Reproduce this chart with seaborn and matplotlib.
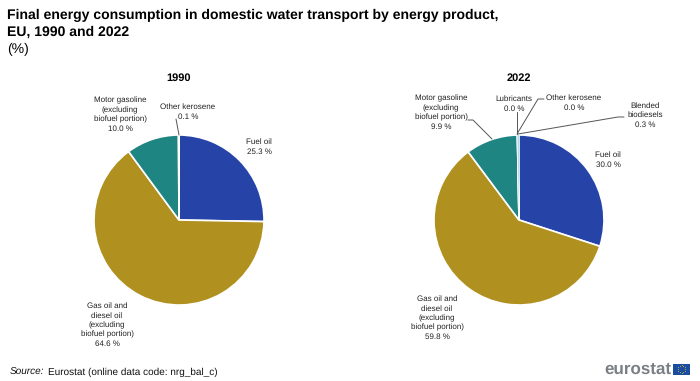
import numpy as np
import matplotlib
matplotlib.use('Agg')
import matplotlib.pyplot as plt
from matplotlib.patches import Rectangle
import seaborn as sns

# data
years = ['1990', '2022']
labels_1990 = ['Fuel oil', 'Gas oil and\ndiesel oil\n(excluding\nbiofuel portion)',
               'Motor gasoline\n(excluding\nbiofuel portion)', 'Other kerosene']
values_1990 = [25.3, 64.6, 10.0, 0.1]
colors_1990 = ['#2644a8', '#b0901e', '#1f8583', '#7fb5d8']

labels_2022 = ['Fuel oil', 'Gas oil and\ndiesel oil\n(excluding\nbiofuel portion)',
               'Motor gasoline\n(excluding\nbiofuel portion)', 'Lubricants',
               'Other kerosene', 'Blended\nbiodiesels']
values_2022 = [30.0, 59.8, 9.9, 0.0, 0.0, 0.3]
colors_2022 = ['#2644a8', '#b0901e', '#1f8583', '#c84a32', '#7fb5d8', '#a9dff0']

# label centres in pixels
pos_1990 = [(259, 147), (107, 325), (120, 115), (188, 112)]
pos_2022 = [(608, 160), (437, 318), (441, 113), (514, 104), (574, 103), (645, 115)]

W, H = 700, 381
sns.set_theme(style='white')
plt.rcParams['font.family'] = ['Liberation Sans', 'DejaVu Sans']
plt.rcParams['text.hinting'] = 'no_hinting'
plt.rcParams['text.hinting_factor'] = 1
fig = plt.figure(figsize=(W / 100, H / 100), dpi=100)


def fx(x):
    return x / W


def fy(y):
    return 1 - y / H


def draw_pie(cx, cy, r, values, colors, labels, positions, year):
    ax = fig.add_axes([fx(cx - r), fy(cy + r), 2 * r / W, 2 * r / H])
    wedges, _ = ax.pie(values, colors=colors, startangle=90, counterclock=False, radius=1,
                       wedgeprops={'edgecolor': 'white', 'linewidth': 1.2})
    # keep the thin biodiesel slice visible over the white separators
    for w, val in zip(wedges, values):
        if 0.2 <= val < 1:
            w.set_linewidth(0)
            w.set_zorder(5)
    ax.set_xlim(-1, 1)
    ax.set_ylim(-1, 1)
    ax.set_aspect('equal')
    for lab, val, (x, y) in zip(labels, values, positions):
        fig.text(fx(x), fy(y), f'{lab}\n{val:.1f} %', ha='center', va='center',
                 fontsize=6.0, color='#222222', linespacing=1.36)
    fig.text(fx(cx), fy(78), year, ha='center', va='center', fontsize=7.8,
             fontweight='bold', color='black')


def leader(points):
    xs = [fx(p[0]) for p in points]
    ys = [fy(p[1]) for p in points]
    fig.add_artist(plt.Line2D(xs, ys, color='#555555', lw=0.7))


draw_pie(179, 220, 85, values_1990, colors_1990, labels_1990, pos_1990, years[0])
draw_pie(519, 220, 85, values_2022, colors_2022, labels_2022, pos_2022, years[1])

leader([(176, 119), (179, 135)])
leader([(468, 120), (473, 120), (492, 139)])
leader([(517, 112), (517, 134)])
leader([(544, 99), (538, 99), (517, 134)])
leader([(624, 117), (618, 117), (518, 134)])

fig.text(fx(7), fy(15.5), 'Final energy consumption in domestic water transport by energy product,',
         fontsize=10.4, fontweight='bold', color='black', va='center')
fig.text(fx(7), fy(32), 'EU, 1990 and 2022', fontsize=10.4, fontweight='bold',
         color='black', va='center')
fig.text(fx(7), fy(49), '(%)', fontsize=10, color='black', va='center')

fig.text(fx(10), fy(375), 'Source:', fontsize=7.5, fontstyle='italic',
         color='#111111', va='baseline')
fig.text(fx(48), fy(375), 'Eurostat (online data code: nrg_bal_c)', fontsize=7.5,
         color='#111111', va='baseline')

# logo
fig.text(fx(671), fy(374), 'eurostat', fontsize=12.4, fontweight='bold', color='#7a7f85',
         ha='right', va='baseline')
fig.add_artist(Rectangle((fx(673), fy(374.5)), 17 / W, 11 / H, transform=fig.transFigure,
                         facecolor='#1a4da0', edgecolor='none'))
angles = np.linspace(0, 2 * np.pi, 12, endpoint=False)
fig.add_artist(plt.Line2D(fx(681.5) + 3.6 * np.cos(angles) / W,
                          fy(369) + 3.6 * np.sin(angles) / H,
                          ls='none', marker='o', ms=0.7, mfc='#d8c840', mec='none'))

fig.savefig('out.png', dpi=100)
